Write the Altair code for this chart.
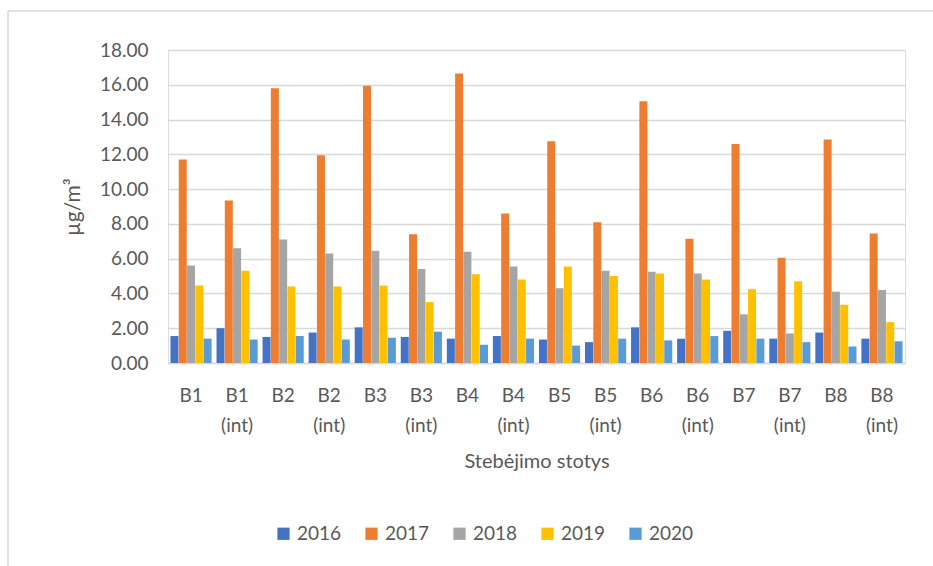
import altair as alt
import pandas as pd

stations = ["B1", "B1 (int)", "B2", "B2 (int)", "B3", "B3 (int)", "B4", "B4 (int)",
            "B5", "B5 (int)", "B6", "B6 (int)", "B7", "B7 (int)", "B8", "B8 (int)"]
years = ["2016", "2017", "2018", "2019", "2020"]
v2016 = [1.55, 2.00, 1.50, 1.75, 2.05, 1.50, 1.40, 1.55, 1.35, 1.20, 2.05, 1.40, 1.85, 1.40, 1.75, 1.40]
v2017 = [11.70, 9.35, 15.80, 11.95, 15.95, 7.40, 16.65, 8.60, 12.75, 8.10, 15.05, 7.15, 12.60, 6.05, 12.85, 7.45]
v2018 = [5.60, 6.60, 7.10, 6.30, 6.45, 5.40, 6.40, 5.55, 4.30, 5.30, 5.25, 5.15, 2.80, 1.70, 4.10, 4.20]
v2019 = [4.45, 5.30, 4.40, 4.40, 4.45, 3.50, 5.10, 4.80, 5.55, 5.00, 5.15, 4.80, 4.25, 4.70, 3.35, 2.35]
v2020 = [1.40, 1.35, 1.55, 1.35, 1.45, 1.80, 1.05, 1.40, 1.00, 1.40, 1.30, 1.55, 1.40, 1.20, 0.95, 1.25]
colors = ["#4472C4", "#ED7D31", "#A5A5A5", "#FFC000", "#5B9BD5"]

rows = []
for y, vals in zip(years, [v2016, v2017, v2018, v2019, v2020]):
    for s, v in zip(stations, vals):
        rows.append({"station": s, "year": y, "value": v})
df = pd.DataFrame(rows)

FONT = "Lato"
TXT = "#595959"

bars = alt.Chart(df).mark_bar(size=8).encode(
    x=alt.X("station:N", sort=stations, title="Stebėjimo stotys",
            scale=alt.Scale(paddingInner=0.1, paddingOuter=0.05),
            axis=alt.Axis(labelAngle=0, labelExpr="split(datum.label, ' ')",
                          labelFontSize=19, labelLineHeight=30, labelPadding=23,
                          labelColor=TXT, labelFont=FONT, ticks=False,
                          domainColor="#D9D9D9", domainWidth=1.5,
                          titleFontSize=20, titleFont=FONT, titleColor=TXT,
                          titleFontWeight="normal", titlePadding=16)),
    xOffset=alt.XOffset("year:N", sort=years),
    y=alt.Y("value:Q", title="µg/m³",
            scale=alt.Scale(domain=[0, 18], nice=False),
            axis=alt.Axis(values=list(range(0, 19, 2)), format=".2f",
                          labelFontSize=19, labelColor=TXT, labelFont=FONT,
                          labelPadding=20, ticks=False, domain=False,
                          gridColor="#D9D9D9", gridWidth=1.5,
                          titleFontSize=21, titleFont=FONT, titleColor=TXT,
                          titleFontWeight="normal", titlePadding=16)),
    color=alt.Color("year:N", sort=years, title=None,
                    scale=alt.Scale(domain=years, range=colors),
                    legend=alt.Legend(orient="none", direction="horizontal",
                                      legendX=106, legendY=474,
                                      symbolType="square", symbolSize=150,
                                      symbolStrokeWidth=0, symbolOpacity=1,
                                      labelFontSize=19, labelFont=FONT,
                                      labelColor=TXT, columnPadding=20,
                                      labelOffset=4)),
)

frame_df = pd.DataFrame({"k": [0]})
top_edge = alt.Chart(frame_df).mark_rule(color="#D9D9D9", strokeWidth=1.5).encode(
    x=alt.value(-160), x2=alt.value(775), y=alt.value(-39))
left_edge = alt.Chart(frame_df).mark_rule(color="#D9D9D9", strokeWidth=1.5).encode(
    x=alt.value(-160), y=alt.value(-39), y2=alt.value(520))

chart = alt.layer(bars, top_edge, left_edge).properties(
    width=737, height=313,
    autosize=alt.AutoSizeParams(type="none"),
    padding={"left": 168, "top": 50, "right": 28, "bottom": 203},
).configure_view(stroke=None).configure(background="white")

chart.save("out.html", embed_options={"renderer": "svg", "actions": False})
